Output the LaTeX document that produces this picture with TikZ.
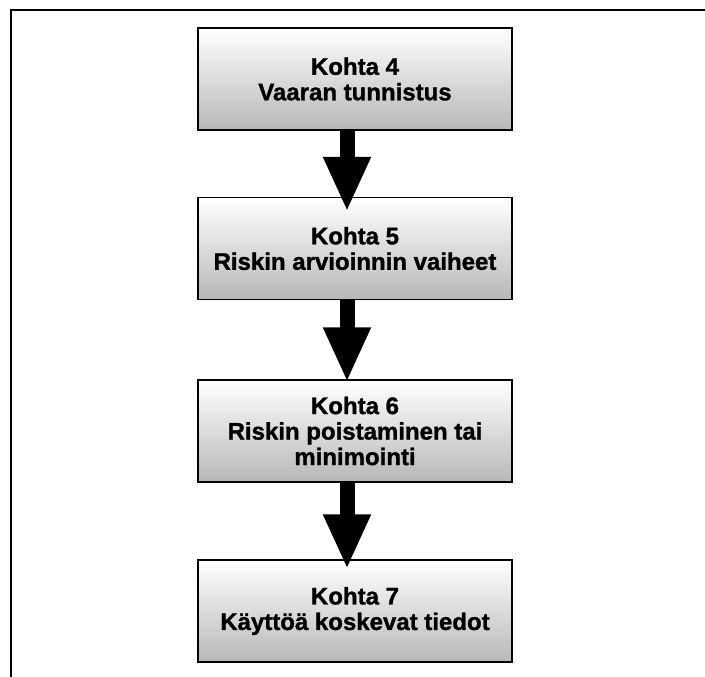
\documentclass[tikz,border=0pt]{standalone}
\usepackage{fontspec}
\setmainfont{Liberation Sans}
\newfontfamily\kohtafont{Liberation Sans}[BoldFeatures={FakeBold=1.2}]
\usetikzlibrary{arrows.meta,positioning,calc}
\tikzset{
	kohta/.style={draw=black, line width=1.5pt, minimum width=314pt, minimum height=102pt,
		inner sep=0pt, top color=white, bottom color=black!28, align=center,
		font=\kohtafont\bfseries\fontsize{24}{25.5}\selectfont},
	nuoli/.style={line width=15pt, -{Triangle[width=44pt,length=55pt]}}
}
\begin{document}
\begin{tikzpicture}[x=1pt,y=-1pt]
		\def\xKohta{355}
		\def\yKohtaA{79}
		\def\yKohtaB{248.5}
		\def\yKohtaC{431}
		\def\yKohtaD{611}
		\def\xNuoli{-8pt}

\useasboundingbox (0,0) rectangle (705,677);

% kehys
\draw[line width=2.5pt] (705,10) -- (11,10) -- (11,677);

\node[kohta] (kohta4) at (\xKohta,\yKohtaA) {Kohta 4\\Vaaran tunnistus};
\node[kohta] (kohta5) at (\xKohta,\yKohtaB) {Kohta 5\\Riskin arvioinnin vaiheet};
\node[kohta] (kohta6) at (\xKohta,\yKohtaC) {Kohta 6\\Riskin poistaminen tai\\minimointi};
\node[kohta] (kohta7) at (\xKohta,\yKohtaD) {Kohta 7\\Käyttöä koskevat tiedot};

\draw[nuoli] ([xshift=\xNuoli]kohta4.south) -- ([xshift=\xNuoli,yshift=-15pt]kohta5.north);
\draw[nuoli] ([xshift=\xNuoli]kohta5.south) -- ([xshift=\xNuoli,yshift=-3pt]kohta6.north);
\draw[nuoli] ([xshift=\xNuoli]kohta6.south) -- ([xshift=\xNuoli,yshift=-10pt]kohta7.north);

	\end{tikzpicture}
\end{document}
